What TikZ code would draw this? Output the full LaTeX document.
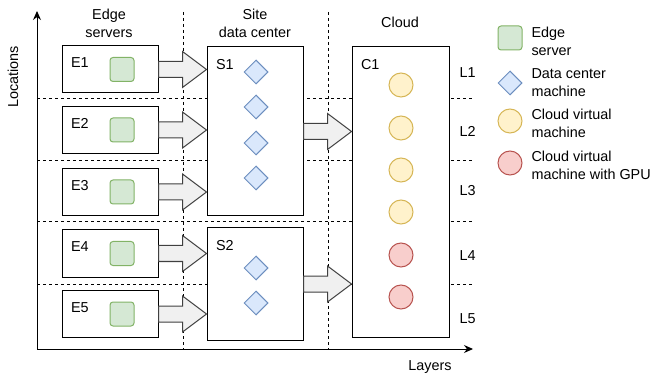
\documentclass[tikz,border=0pt]{standalone}
\usepackage{fontspec}
\setmainfont{Liberation Sans}
\usetikzlibrary{arrows.meta,shapes.geometric,calc}

\definecolor{edgefill}{HTML}{D5E8D4}
\definecolor{edgeline}{HTML}{82B366}
\definecolor{dcfill}{HTML}{DAE8FC}
\definecolor{dcline}{HTML}{6C8EBF}
\definecolor{vmfill}{HTML}{FFF2CC}
\definecolor{vmline}{HTML}{D6B656}
\definecolor{gpufill}{HTML}{F8CECC}
\definecolor{gpuline}{HTML}{B85450}

\begin{document}
\begin{tikzpicture}[x=1pt,y=-1pt,line width=1pt,
  every node/.style={font=\fontsize{14.4}{18}\selectfont},
  box/.style={draw,fill=white,minimum width=96pt,inner sep=0pt},
  tag/.style={anchor=north west,inner sep=0pt,xshift=9pt,yshift=-12pt},
  edgesrv/.style={draw=edgeline,fill=edgefill,rounded corners=3pt,minimum size=24pt,inner sep=0pt},
  dcmach/.style={diamond,draw=dcline,fill=dcfill,minimum size=24pt,inner sep=0pt},
  cloudvm/.style={circle,draw=vmline,fill=vmfill,minimum size=24pt,inner sep=0pt},
  gpuvm/.style={circle,draw=gpuline,fill=gpufill,minimum size=24pt,inner sep=0pt},
  blockarrow/.style={draw=black!75,fill=gray!12,line join=miter},
  grid/.style={dash pattern=on 3pt off 3pt}]
  \useasboundingbox (0,0) rectangle (650,379);

  \foreach \x in {183,328}
    \draw[grid] (\x,12) -- (\x,349);
  \foreach \y in {99,161,222,284}
    \draw[grid] (37,\y) -- (473,\y);

  \coordinate (o) at (37,349);
  \coordinate (ytip) at (37,11);
  \coordinate (xtip) at (473,349);
  \draw[-{Stealth[length=9pt,width=8pt]}] (o) -- (ytip);
  \draw[-{Stealth[length=9pt,width=8pt]}] (o) -- (xtip);
  \node[rotate=90] (locs) at (13,77) {Locations};
  \node (lays) at (430,367) {Layers};

  \node[align=center] (hedge) at (109,23) {Edge\\servers};
  \node[align=center] (hsite) at (255,23) {Site\\data center};
  \node (hcloud) at (400,22) {Cloud};

  \foreach \n/\y in {1/69.5,2/130,3/192,4/253.5,5/314}
    \node[box,minimum height=47pt,label={[tag]north west:E\n}] (e\n) at (110,\y) {};
  \node[box,minimum height=169pt,label={[tag]north west:S1}] (s1) at (255,131.5) {};
  \node[box,minimum height=112pt,label={[tag]north west:S2}] (s2) at (255,284) {};
  \node[box,minimum width=97pt,minimum height=290pt,label={[tag]north west:C1}] (c1) at (400.5,192) {};

  \foreach \a/\b in {e1/s1,e2/s1,e3/s1,e4/s2,e5/s2,s1/c1,s2/c1}
    \draw[blockarrow] ($(\a.east)+(0,-8)$) -- ($(\b.west |- \a.east)+(-24,-8)$) -- ++(0,-10)
      -- (\b.west |- \a.east) -- ($(\b.west |- \a.east)+(-24,18)$) -- ++(0,-10)
      -- ($(\a.east)+(0,8)$) -- cycle;

  \foreach \n/\y in {1/69.5,2/130,3/192,4/253.5,5/314}
    \node[edgesrv] (g\n) at (122,\y) {};
  \foreach \i/\y in {1/72,2/107,3/143,4/178,5/268,6/303}
    \node[dcmach] (d\i) at (256,\y) {};
  \foreach \i/\y in {1/85,2/128,3/170,4/212}
    \node[cloudvm] (v\i) at (401,\y) {};
  \foreach \i/\y in {5/255,6/297}
    \node[gpuvm] (v\i) at (401,\y) {};

  \foreach \i/\y in {1/73,2/131,3/191,4/256,5/319}
    \node[anchor=west,inner sep=0pt] (l\i) at (459,\y) {L\i};

  \node[edgesrv] (kedge) at (510,38) {};
  \node[anchor=west,align=left,inner sep=0pt] (tedge) at (531,41) {Edge\\server};
  \node[dcmach] (kdc) at (510,83) {};
  \node[anchor=west,align=left,inner sep=0pt] (tdc) at (531,83) {Data center\\machine};
  \node[cloudvm] (kvm) at (510,121) {};
  \node[anchor=west,align=left,inner sep=0pt] (tvm) at (531,123) {Cloud virtual\\machine};
  \node[gpuvm] (kgpu) at (510,163) {};
  \node[anchor=west,align=left,inner sep=0pt] (tgpu) at (531,165) {Cloud virtual\\machine with GPU};
\end{tikzpicture}
\end{document}
